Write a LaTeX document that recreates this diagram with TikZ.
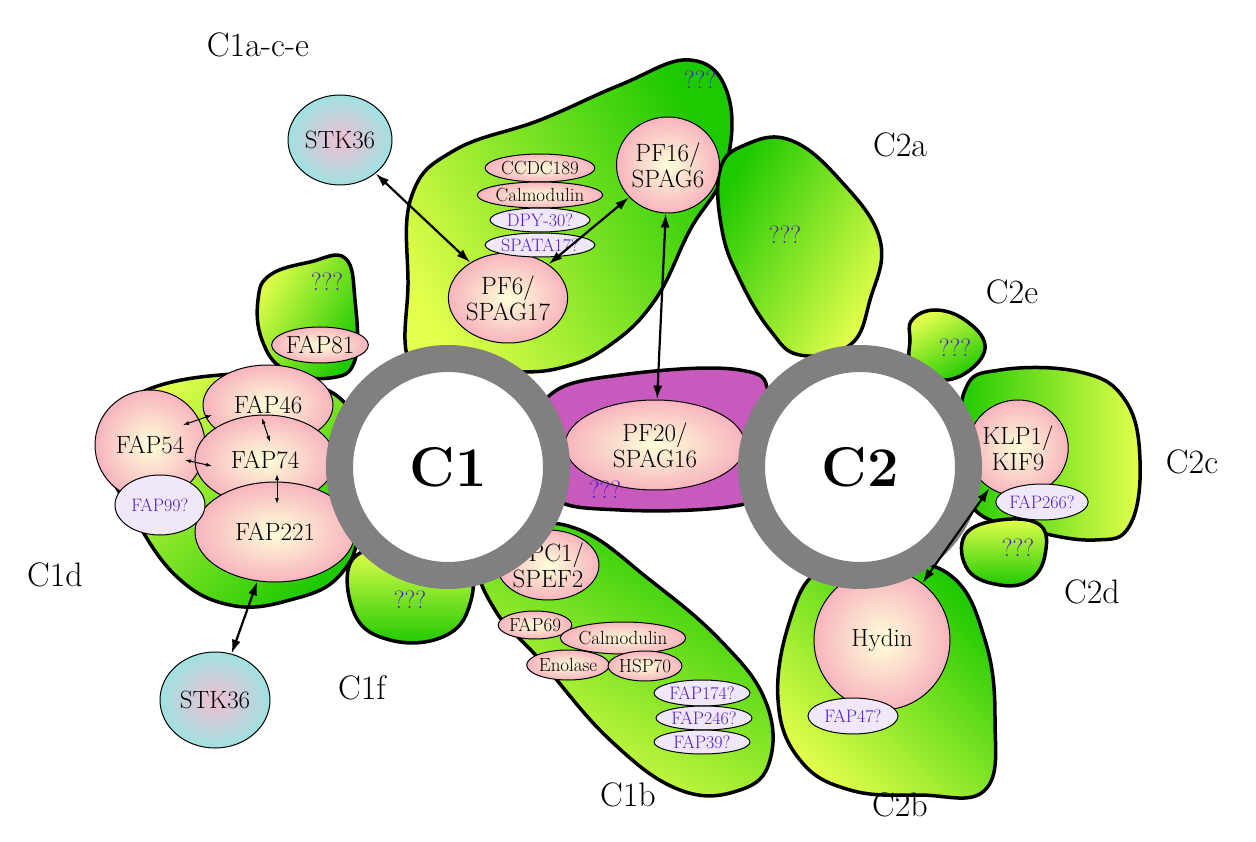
\documentclass[tikz,border=0pt]{standalone}
\usetikzlibrary{arrows.meta,shapes.geometric}
\begin{document}
\begin{tikzpicture}[x=1pt,y=-1pt,
 blob/.style={line width=3.5pt,draw=black,left color=yellow!85!green!70,right color=green!75!black!85!lime,shading angle=#1},
 blob/.default=90,
 prot/.style={ellipse,draw=black,line width=1pt,inner color=yellow!15!white,outer color={rgb,255:red,247;green,180;blue,190},inner sep=0pt,align=center,font=\fontsize{25}{26}\selectfont},
 sm/.style={font=\fontsize{19}{20}\selectfont},
 q/.style={ellipse,draw=black,line width=1pt,fill={rgb,255:red,240;green,232;blue,248},inner sep=0pt,align=center,text={rgb,255:red,80;green,30;blue,190},font=\fontsize{18}{19}\selectfont},
 qq/.style={text={rgb,255:red,80;green,30;blue,190},font=\fontsize{25}{26}\selectfont},
 lab/.style={font=\fontsize{34}{36}\selectfont},
 arr/.style={{Latex[length=14pt,width=9pt]}-{Latex[length=14pt,width=9pt]},line width=2.2pt},
 sarr/.style={{Latex[length=6pt,width=4pt]}-{Latex[length=6pt,width=4pt]},line width=1pt},
 ring/.style={circle,draw={rgb,255:red,128;green,128;blue,128},line width=27pt,fill=white,minimum size=217pt,inner sep=0pt,font=\fontsize{56}{58}\selectfont\bfseries}]
\useasboundingbox (0,0) rectangle (1256,842);
% blobs
\draw[blob=120] plot[smooth cycle,tension=0.7] coordinates{(415,370)(408,280)(412,195)(455,150)(540,120)(620,85)(690,60)(728,95)(725,170)(690,230)(655,300)(610,345)(560,368)(500,372)};
\draw[blob=60] plot[smooth cycle,tension=0.7] coordinates{(258,300)(270,275)(310,262)(345,258)(355,300)(355,360)(330,378)(285,370)(262,340)};
\draw[blob=45] plot[smooth cycle,tension=0.7] coordinates{(105,430)(140,393)(220,375)(300,380)(355,420)(360,520)(340,575)(290,600)(230,605)(175,575)(130,510)(110,470)};
\draw[blob=0] plot[smooth cycle,tension=0.7] coordinates{(352,560)(400,550)(465,565)(468,610)(440,638)(390,640)(355,615)};
\draw[blob=150] plot[smooth cycle,tension=0.7] coordinates{(480,560)(520,528)(580,530)(650,580)(720,640)(765,700)(770,760)(740,790)(680,790)(610,740)(540,660)(495,610)};
\draw[blob=240] plot[smooth cycle,tension=0.7] coordinates{(720,170)(745,145)(790,140)(840,180)(880,240)(870,300)(850,345)(800,355)(770,330)(740,280)(722,230)};
\draw[blob=30] plot[smooth cycle,tension=0.7] coordinates{(912,320)(935,310)(965,320)(985,345)(970,370)(940,380)(912,365)(910,340)};
\draw[blob=270] plot[smooth cycle,tension=0.7] coordinates{(965,390)(1000,370)(1080,372)(1125,400)(1140,460)(1130,525)(1095,540)(1030,530)(975,510)(962,460)};
\draw[blob=0] plot[smooth cycle,tension=0.7] coordinates{(965,535)(1000,520)(1040,525)(1045,555)(1030,580)(1000,585)(968,570)};
\draw[blob=135] plot[smooth cycle,tension=0.7] coordinates{(790,620)(820,570)(880,560)(950,575)(985,640)(995,720)(985,790)(920,795)(850,790)(800,760)(778,700)};
\draw[line width=3.5pt,fill={rgb,255:red,200;green,90;blue,190}] plot[smooth cycle,tension=0.7] coordinates{(550,395)(620,375)(740,370)(770,400)(770,480)(740,505)(620,510)(550,495)(545,440)};
% proteins
\node[prot,inner color={rgb,255:red,240;green,190;blue,210},outer color={rgb,255:red,160;green,225;blue,225},minimum width=104pt,minimum height=90pt] (stkA) at (340,140) {STK36};
\node[prot,minimum width=104pt,minimum height=90pt] (pf6) at (508,298) {PF6/\\SPAG17};
\node[prot,sm,minimum width=104pt,minimum height=28pt] (ccdc) at (540,168) {CCDC189};
\node[prot,sm,minimum width=114pt,minimum height=26pt] (calA) at (540,195) {Calmodulin};
\node[q,minimum width=100pt,minimum height=24pt] (dpy) at (540,220) {DPY-30?};
\node[q,minimum width=100pt,minimum height=24pt] (spata) at (540,245) {SPATA17?};
\node[prot,minimum width=96pt,minimum height=96pt] (pf16) at (668,165) {PF16/\\SPAG6};
\node[prot,minimum width=84pt,minimum height=36pt] (fap81) at (320,345) {FAP81};
\node[prot,minimum width=130pt,minimum height=80pt] (fap46) at (268,405) {FAP46};
\node[prot,minimum width=110pt,minimum height=110pt] (fap54) at (150,445) {FAP54};
\node[prot,minimum width=140pt,minimum height=90pt] (fap74) at (265,460) {FAP74};
\node[prot,minimum width=160pt,minimum height=100pt] (fap221) at (275,532) {\raisebox{-10pt}{FAP221}};
\node[q,minimum width=90pt,minimum height=60pt] (fap99) at (160,505) {FAP99?};
\node[prot,inner color={rgb,255:red,240;green,190;blue,210},outer color={rgb,255:red,160;green,225;blue,225},minimum width=110pt,minimum height=96pt] (stkB) at (215,700) {STK36};
\node[prot,minimum width=180pt,minimum height=90pt] (pf20) at (655,445) {PF20/\\SPAG16};
\node[prot,minimum width=90pt,minimum height=70pt] (cpc1) at (548,565) {CPC1/\\SPEF2};
\node[prot,sm,minimum width=70pt,minimum height=28pt] (fap69) at (535,625) {FAP69};
\node[prot,sm,minimum width=120pt,minimum height=32pt] (calB) at (623,638) {Calmodulin};
\node[prot,sm,minimum width=76pt,minimum height=30pt] (enol) at (568,665) {Enolase};
\node[prot,sm,minimum width=60pt,minimum height=30pt] (hsp) at (645,666) {HSP70};
\node[q,minimum width=96pt,minimum height=26pt] (f174) at (702,693) {FAP174?};
\node[q,minimum width=96pt,minimum height=24pt] (f246) at (704,718) {FAP246?};
\node[q,minimum width=96pt,minimum height=24pt] (f39) at (702,742) {FAP39?};
\node[prot,minimum width=96pt,minimum height=96pt] (klp) at (1018,448) {KLP1/\\KIF9};
\node[q,minimum width=90pt,minimum height=36pt] (f266) at (1042,502) {FAP266?};
\node[prot,minimum width=136pt,minimum height=140pt] (hydin) at (882,640) {Hydin};
\node[q,minimum width=90pt,minimum height=36pt] (f47) at (853,716) {FAP47?};
% rings
\node[ring] (c1) at (448,467) {C1};
\node[ring] (c2) at (860,467) {C2};
% question marks
\node[qq] (q1) at (700,80) {???};
\node[qq] (q2) at (327,282) {???};
\node[qq] (q3) at (410,600) {???};
\node[qq] (q4) at (605,490) {???};
\node[qq] (q5) at (785,235) {???};
\node[qq] (q6) at (955,348) {???};
\node[qq] (q7) at (1018,548) {???};
% labels
\node[lab] (l1) at (258,45) {C1a-c-e};
\node[lab] (l2) at (900,145) {C2a};
\node[lab] (l3) at (1012,292) {C2e};
\node[lab] (l4) at (1192,462) {C2c};
\node[lab] (l5) at (1092,592) {C2d};
\node[lab] (l6) at (900,805) {C2b};
\node[lab] (l7) at (628,795) {C1b};
\node[lab] (l8) at (362,688) {C1f};
\node[lab] (l9) at (55,575) {C1d};
% arrows
\draw[arr] (stkA) -- (pf6);
\draw[arr] (pf16) -- (pf6);
\draw[arr] (pf16) -- (pf20);
\draw[arr] (fap221) -- (stkB);
\draw[arr] (klp) -- (hydin);
\coordinate (a1) at (183,425); \coordinate (b1) at (212,415);
\coordinate (a2) at (262,418); \coordinate (b2) at (270,442);
\coordinate (a3) at (185,460); \coordinate (b3) at (212,466);
\coordinate (a4) at (277,474); \coordinate (b4) at (277,504);
\draw[sarr] (a1) -- (b1);
\draw[sarr] (a2) -- (b2);
\draw[sarr] (a3) -- (b3);
\draw[sarr] (a4) -- (b4);
\end{tikzpicture}
\end{document}
